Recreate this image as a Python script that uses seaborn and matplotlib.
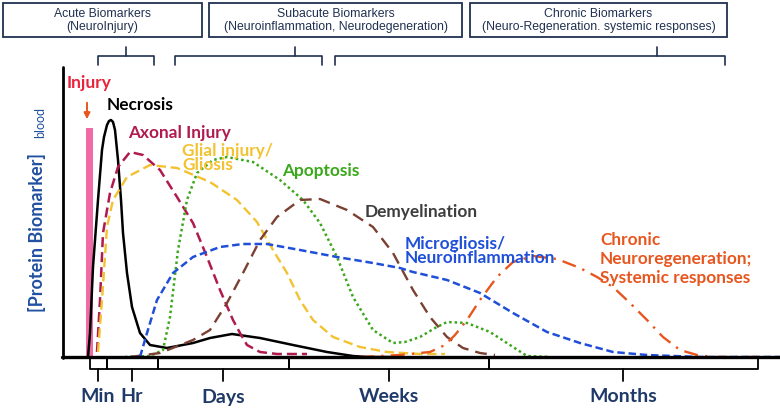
"""
Conceptual timeline of blood protein biomarkers after brain injury.

The chart is drawn on one canvas whose units match the reference picture
(x to the right, y downwards), so curves are given as points read off it.
"""

import matplotlib.pyplot as plt
import pandas as pd
import seaborn as sns
from matplotlib.patches import Rectangle

# ── curves (canvas units, y grows downwards) ──
NECROSIS_X = [88, 90, 93, 98, 102, 104, 107, 109, 111, 113, 115, 118, 121, 123, 127, 132, 140, 150,
              167, 193, 210, 232, 260, 293, 327, 353, 367, 400]
NECROSIS_Y = [357, 333, 267, 200, 150, 137, 125, 121, 120, 122, 130, 160, 200, 233, 273, 307, 333, 345,
              348, 343, 338, 334, 338, 345, 352, 356, 357, 357]

AXONAL_X = [97, 100, 103, 110, 118, 130, 143, 160, 177, 193, 207, 220, 233, 240, 247, 260, 277, 307]
AXONAL_Y = [352, 300, 233, 193, 167, 152, 155, 170, 197, 223, 257, 290, 320, 333, 345, 352, 354, 354]

GLIAL_X = [98, 102, 107, 113, 127, 150, 177, 210, 237, 257, 273, 287, 300, 313, 333, 360, 387, 420, 445]
GLIAL_Y = [352, 300, 227, 200, 177, 165, 168, 182, 200, 222, 250, 273, 300, 320, 337, 347, 352, 354, 354]

APOPTOSIS_X = [125, 150, 163, 170, 178, 187, 197, 213, 227, 253, 280, 303, 320, 337, 353, 373, 393,
               405, 420, 435, 447, 467, 490, 513, 527, 550]
APOPTOSIS_Y = [357, 356, 350, 317, 250, 200, 173, 160, 157, 162, 180, 200, 223, 257, 297, 330, 343,
               342, 337, 328, 322, 323, 332, 347, 356, 357]

DEMYELIN_X = [130, 160, 193, 210, 227, 243, 260, 277, 300, 320, 347, 373, 393, 413, 430, 447, 463, 480, 495]
DEMYELIN_Y = [357, 353, 340, 330, 303, 273, 240, 217, 200, 199, 210, 227, 253, 290, 317, 337, 348, 353, 355]

MICROGLIA_X = [140, 147, 157, 173, 193, 220, 243, 267, 300, 337, 373, 400, 413, 447, 480, 513, 547,
               580, 613, 647, 700, 780]
MICROGLIA_Y = [357, 333, 300, 273, 257, 247, 244, 244, 250, 257, 263, 268, 272, 280, 293, 313, 332,
               343, 352, 355, 357, 357]

CHRONIC_X = [360, 400, 430, 445, 455, 467, 480, 497, 513, 533, 557, 580, 597, 613, 630, 647, 663,
             680, 697, 713, 760]
CHRONIC_Y = [357, 355, 352, 345, 335, 320, 300, 277, 262, 256, 259, 268, 277, 287, 303, 320, 337,
             350, 355, 357, 357]

CURVE_NAMES = ["Necrosis", "Axonal Injury", "Glial injury/\nGliosis", "Apoptosis", "Demyelination",
               "Microgliosis/\nNeuroinflammation",
               "Chronic\nNeuroregeneration;\nSystemic responses"]

PHASE_BOXES = ["Acute Biomarkers\n(NeuroInjury)",
               "Subacute Biomarkers\n(Neuroinflammation, Neurodegeneration)",
               "Chronic Biomarkers\n(Neuro-Regeneration. systemic responses)"]

TIME_LABELS = ["Min", "Hr", "Days", "Weeks", "Months"]

# ── layout and style ──
W, H = 780, 409
AXIS_X, AXIS_TOP, BASE_Y = 63, 67, 357
NAVY = "#1f3a68"
FONT = ["Lato", "DejaVu Sans"]

CURVE_STYLE = [
    # colour, linestyle, linewidth, label position, label colour, line spacing
    ("#000000", "-", 1.8, (107, 105), "#000000", 1.0),
    ("#b01a4e", (0, (4, 2)), 1.8, (128, 133), "#b01a4e", 1.0),
    ("#f2c230", (0, (4, 2)), 1.7, (182, 158), "#f2c230", 0.82),
    ("#3aa81a", (0, (1, 1.2)), 1.8, (282, 171), "#3aa81a", 1.0),
    ("#7a4032", (0, (5, 3)), 1.7, (365, 212), "#3d3d3d", 1.0),
    ("#1f4fd8", (0, (3, 1.5)), 1.8, (405, 251), "#1f4fd8", 0.82),
    ("#e8561f", (0, (6, 3, 1, 3)), 1.7, (600, 259), "#e8561f", 1.2),
]

BOX_SPANS = [(3, 202), (209, 462), (470, 727)]
TOP_BRACKETS = [(98, 154, 126), (175, 322, 295), (335, 725, 657)]
BOTTOM_EDGES = [90, 107, 158, 289, 489, 758]
BOTTOM_CENTRES = [98, 132, 223, 389, 623]


def main() -> None:
    sns.set_theme(style="white")
    plt.rcParams["font.family"] = FONT

    fig = plt.figure(figsize=(W / 100, H / 100), dpi=100)
    ax = fig.add_axes([0, 0, 1, 1])

    curves = [
        (NECROSIS_X, NECROSIS_Y), (AXONAL_X, AXONAL_Y), (GLIAL_X, GLIAL_Y),
        (APOPTOSIS_X, APOPTOSIS_Y), (DEMYELIN_X, DEMYELIN_Y),
        (MICROGLIA_X, MICROGLIA_Y), (CHRONIC_X, CHRONIC_Y),
    ]

    # injury bar and arrow
    ax.add_patch(Rectangle((86, 128), 7, BASE_Y - 128, color="#f06aa5", lw=0, zorder=2))
    ax.annotate("", xy=(87, 122), xytext=(87, 100),
                arrowprops=dict(arrowstyle="-|>", color="#e8561f", lw=1.4, mutation_scale=9))
    ax.text(67, 83, "Injury", color="#e8243c", fontsize=12.5, fontweight="bold", va="center")

    for name, (xs, ys), (color, ls, lw, pos, tcolor, spacing) in zip(CURVE_NAMES, curves, CURVE_STYLE):
        df = pd.DataFrame({"x": xs, "y": ys})
        sns.lineplot(data=df, x="x", y="y", sort=False, color=color, lw=lw, ax=ax,
                     zorder=3, estimator=None)
        ax.lines[-1].set_linestyle(ls)
        ax.text(pos[0], pos[1], name, color=tcolor, fontsize=12.4, fontweight="bold",
                va="center", ha="left", linespacing=spacing, zorder=4)
    ax.set_xlim(0, W)
    ax.set_ylim(H, 0)
    ax.axis("off")

    # axes lines
    ax.plot([AXIS_X, AXIS_X], [AXIS_TOP, BASE_Y + 1], color="black", lw=2, zorder=5)
    ax.plot([AXIS_X - 1, W], [BASE_Y, BASE_Y], color="black", lw=2.4, zorder=5)

    ax.text(37, 232, "[Protein Biomarker]", rotation=90, color="#2050a0", fontsize=13,
            fontweight="bold", ha="center", va="center")
    ax.text(40, 123, "blood", rotation=90, color="#2050a0", fontsize=9,
            ha="center", va="center")

    # phase boxes with their brackets
    for (x0, x1), label in zip(BOX_SPANS, PHASE_BOXES):
        ax.add_patch(Rectangle((x0, 3), x1 - x0, 34, fill=False, ec="#1f3050", lw=1.3))
        ax.text((x0 + x1) / 2, 20.5, label, color="#1f3050", fontsize=8.8,
                family=["Liberation Sans"], ha="center", va="center", linespacing=1.05)
    for x0, x1, xc in TOP_BRACKETS:
        ax.plot([x0, x0, x1, x1], [65, 56, 56, 65], color="#1f3050", lw=1.2)
        ax.plot([xc, xc], [56, 47], color="#1f3050", lw=1.2)

    # time brackets under the axis
    for x0, x1, xc, label in zip(BOTTOM_EDGES[:-1], BOTTOM_EDGES[1:], BOTTOM_CENTRES, TIME_LABELS):
        ax.plot([x0, x0, x1, x1], [BASE_Y, 369, 369, BASE_Y], color="black", lw=1.3)
        ax.plot([xc, xc], [369, 381], color="black", lw=1.3)
        ax.text(xc, 397, label, color=NAVY, fontsize=14, fontweight="bold",
                ha="center", va="center")

    fig.savefig("out.png", dpi=100)
    plt.close(fig)


if __name__ == "__main__":
    main()
